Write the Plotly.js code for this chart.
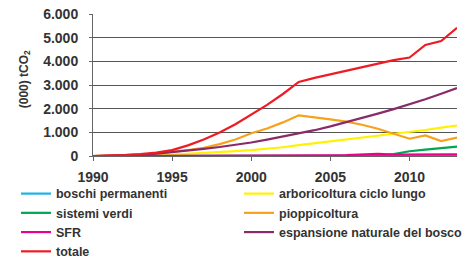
<!DOCTYPE html>
<html>
<head>
<meta charset="utf-8">
<script src="https://cdn.plot.ly/plotly-3.0.1.min.js"></script>
<style>html,body{margin:0;padding:0;background:#fff}#chart{width:470px;height:259px}</style>
</head>
<body>
<div id="chart"></div>
<script>
const years = [1990,1991,1992,1993,1994,1995,1996,1997,1998,1999,2000,2001,2002,2003,2004,2005,2006,2007,2008,2009,2010,2011,2012,2013];
const boschiPermanenti = [0,0,0,0,0,0,0,0,0,0,0,0,0,5,5,5,5,5,5,5,10,10,10,10];
const sistemiVerdi = [0,0,0,0,0,0,0,0,0,0,0,0,0,0,0,0,0,0,20,80,200,270,330,400];
const sfr = [0,0,0,0,0,0,0,0,5,10,15,20,25,30,30,30,35,50,90,60,60,60,65,70];
const arboricoltura = [0,5,10,20,35,60,90,120,160,210,250,300,370,460,540,600,680,780,850,950,1030,1100,1200,1290];
const pioppicoltura = [0,10,30,60,100,160,250,350,500,700,960,1160,1420,1720,1650,1550,1450,1320,1150,950,730,870,630,780];
const espansione = [0,10,30,60,100,160,230,300,380,470,570,690,820,950,1090,1250,1420,1600,1790,1980,2180,2400,2630,2870];
const totale = [0,10,40,80,140,250,450,700,990,1340,1750,2160,2620,3130,3300,3450,3600,3780,3920,4050,4160,4690,4860,5420];
const yTitle = '(000) tCO<sub>2</sub>';

const series = [
  {name:'boschi permanenti', y:boschiPermanenti, color:'#1ab2e8', legend:'legend'},
  {name:'arboricoltura ciclo lungo', y:arboricoltura, color:'#fff200', legend:'legend2'},
  {name:'sistemi verdi', y:sistemiVerdi, color:'#00a651', legend:'legend'},
  {name:'pioppicoltura', y:pioppicoltura, color:'#f7a21b', legend:'legend2'},
  {name:'SFR', y:sfr, color:'#ec008c', legend:'legend'},
  {name:'espansione naturale del bosco', y:espansione, color:'#8b2a6b', legend:'legend2'},
  {name:'totale', y:totale, color:'#ed1c24', legend:'legend'}
];

const traces = series.map(s => ({
  x: years, y: s.y, name: s.name, type:'scatter', mode:'lines',
  line:{color:s.color, width:2.2}, legend:s.legend
}));

const fontFam = '"Liberation Sans", Arial, sans-serif';
const legendFont = {family:fontFam, size:12.5, color:'#333', weight:'bold'};

const layout = {
  width:470, height:259,
  margin:{l:93, r:13, t:14, b:103, autoexpand:false},
  paper_bgcolor:'#fff', plot_bgcolor:'#fff',
  showlegend:true,
  xaxis:{
    range:[1990,2013], tickvals:[1990,1995,2000,2005,2010], ticktext:['1990','1995','2000','2005','2010'],
    showgrid:false, zeroline:false, showline:true, linecolor:'#666', linewidth:1,
    ticks:'outside', ticklen:4, tickcolor:'#666',
    tickfont:{family:fontFam, size:14, color:'#333', weight:'bold'}, ticklabelstandoff:4
  },
  yaxis:{
    range:[0,6000], tickvals:[0,1000,2000,3000,4000,5000,6000],
    ticktext:['0','1.000','2.000','3.000','4.000','5.000','6.000'],
    showgrid:true, gridcolor:'#555', gridwidth:1, zeroline:false,
    showline:true, linecolor:'#666', linewidth:1,
    ticks:'outside', ticklen:3, tickcolor:'#666',
    tickfont:{family:fontFam, size:14, color:'#333', weight:'bold'}, ticklabelstandoff:8
  },
  annotations:[{
    text:yTitle, xref:'paper', yref:'paper', x:-0.187, y:0.54, xanchor:'center', yanchor:'middle',
    textangle:-90, showarrow:false, font:{family:fontFam, size:12, color:'#333', weight:'bold'}
  }],
  legend:{xref:'container', yref:'container', x:0.034, xanchor:'left', y:0.309, yanchor:'top', orientation:'v',
    font:legendFont, bgcolor:'rgba(0,0,0,0)', itemwidth:30, tracegroupgap:0, traceorder:'normal'},
  legend2:{xref:'container', yref:'container', x:0.5085, xanchor:'left', y:0.309, yanchor:'top', orientation:'v',
    font:legendFont, bgcolor:'rgba(0,0,0,0)', itemwidth:30, tracegroupgap:0, traceorder:'normal'}
};

Plotly.newPlot('chart', traces, layout, {staticPlot:true, displayModeBar:false});
</script>
</body>
</html>
